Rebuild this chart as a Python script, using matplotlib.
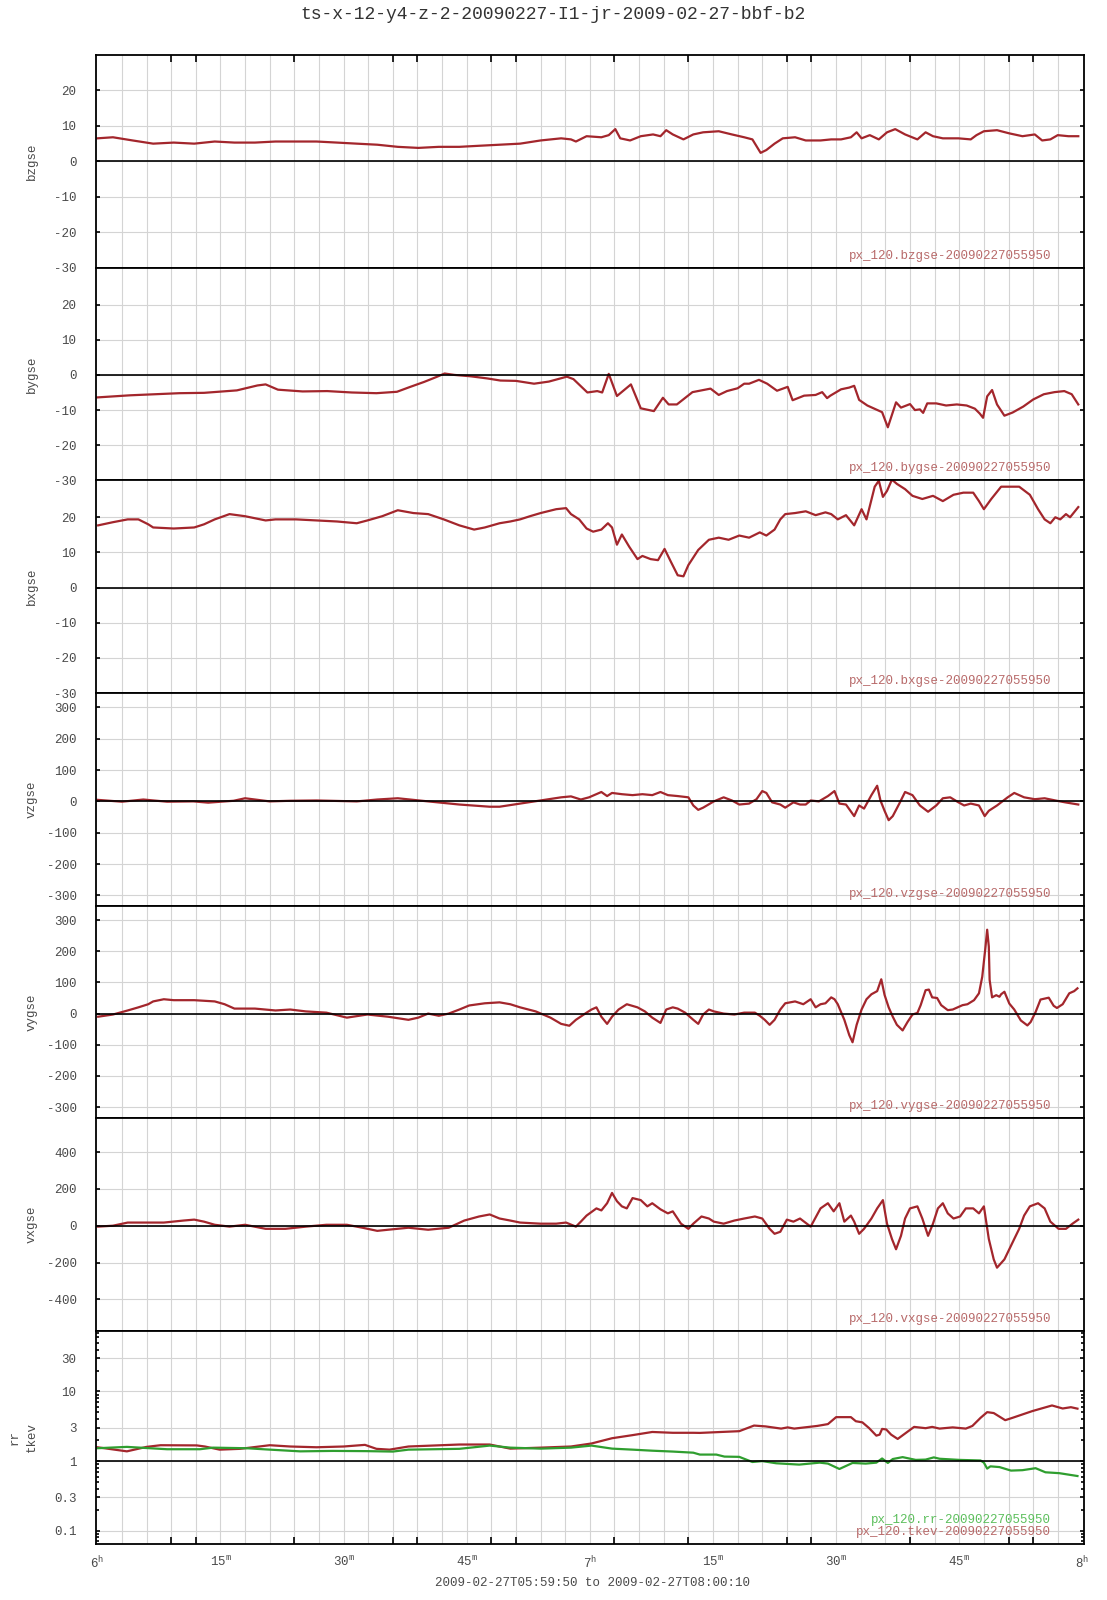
import matplotlib
matplotlib.use('Agg')
import matplotlib.pyplot as plt
import numpy as np

plt.rcParams['font.family'] = ['Liberation Mono', 'DejaVu Sans Mono']
plt.rcParams['mathtext.fontset'] = 'custom'
plt.rcParams['mathtext.rm'] = 'Liberation Mono'
plt.rcParams['mathtext.it'] = 'Liberation Mono'
plt.rcParams['axes.unicode_minus'] = False

# time = minutes after 06:00 UT
bzgse = [(0, 6.5), (1.9, 6.8), (4.3, 5.9), (6.8, 5.0), (9.3, 5.3), (11.8, 5.0), (14.3, 5.6),
         (16.7, 5.3), (19.2, 5.3), (21.7, 5.6), (24.2, 5.6), (26.7, 5.6), (29.2, 5.3), (31.6, 5.0),
         (34.1, 4.7), (36.6, 4.1), (39.1, 3.8), (41.6, 4.1), (44.1, 4.1), (46.5, 4.4), (49.0, 4.7),
         (51.5, 5.0), (54.0, 5.9), (56.5, 6.5), (57.7, 6.2), (58.3, 5.6), (59.6, 7.1), (61.4, 6.8),
         (62.3, 7.4), (63.1, 9.1), (63.7, 6.5), (64.9, 5.9), (66.2, 7.1), (67.7, 7.6), (68.6, 7.1),
         (69.3, 8.8), (70.1, 7.6), (71.4, 6.2), (72.6, 7.6), (73.8, 8.2), (75.7, 8.5), (77.3, 7.6),
         (78.8, 6.8), (79.8, 6.2), (80.8, 2.4), (81.5, 3.2), (82.5, 5.0), (83.5, 6.5), (85.0, 6.8),
         (86.3, 5.9), (88.1, 5.9), (89.4, 6.2), (90.6, 6.2), (91.8, 6.8), (92.5, 8.2), (93.1, 6.5),
         (94.1, 7.4), (95.2, 6.2), (96.2, 8.2), (97.2, 9.1), (98.4, 7.6), (99.9, 6.2), (100.9, 8.2),
         (101.8, 7.1), (103.0, 6.5), (104.9, 6.5), (106.4, 6.2), (107.1, 7.4), (108.0, 8.5),
         (109.6, 8.8), (111.1, 7.9), (112.7, 7.1), (114.2, 7.6), (115.1, 5.9), (116.1, 6.2),
         (117.0, 7.4), (118.3, 7.1), (119.5, 7.1)]

bygse = [(0, -6.4), (4, -5.8), (7, -5.5), (10, -5.2), (13, -5.1), (17, -4.4), (19.5, -3.0),
         (20.5, -2.7), (22, -4.2), (25, -4.7), (28, -4.6), (31, -5.0), (34, -5.2), (36.5, -4.8),
         (38, -3.5), (39.8, -2.0), (41.3, -0.6), (42.3, 0.4), (43.5, 0.0), (45.5, -0.4),
         (47.5, -1.0), (49.1, -1.6), (51, -1.7), (53.2, -2.5), (55, -1.9), (57.2, -0.5),
         (58, -1.2), (59.7, -5.0), (60.9, -4.6), (61.5, -5.0), (62.3, 0.3), (63.3, -6.0),
         (65.0, -2.7), (66.2, -9.5), (67.8, -10.3), (68.9, -6.5), (69.6, -8.4), (70.6, -8.4),
         (72.5, -4.9), (74.7, -3.9), (75.7, -5.7), (76.7, -4.6), (78.0, -3.8), (78.8, -2.5),
         (79.4, -2.5), (80.6, -1.4), (81.6, -2.5), (82.8, -4.5), (84.1, -3.4), (84.7, -7.2),
         (86.1, -5.9), (87.5, -5.7), (88.3, -4.9), (88.9, -6.6), (89.3, -5.9), (90.6, -4.1),
         (91.6, -3.6), (92.2, -3.1), (92.8, -7.1), (93.8, -8.7), (95.6, -10.6), (96.3, -14.9),
         (97.3, -7.8), (97.9, -9.3), (99.0, -8.3), (99.6, -10.0), (100.2, -9.8), (100.6, -10.8),
         (101.1, -8.1), (102.2, -8.1), (103.4, -8.7), (104.7, -8.4), (105.9, -8.7), (106.9, -9.6),
         (107.5, -11.0), (107.9, -12.2), (108.4, -6.1), (109.0, -4.3), (109.6, -8.4),
         (110.5, -11.6), (111.5, -10.7), (112.8, -9.0), (114.0, -7.0), (115.3, -5.5),
         (116.6, -4.9), (117.8, -4.6), (118.7, -5.5), (119.5, -8.4)]

bxgse = [(0.1, 17.7), (1.9, 18.6), (3.7, 19.4), (5.0, 19.4), (6.2, 18.0), (6.8, 17.1), (9.3, 16.8),
         (11.8, 17.1), (13.0, 18.0), (14.3, 19.4), (16.1, 20.9), (18.0, 20.3), (20.5, 19.1),
         (21.7, 19.4), (24.2, 19.4), (26.7, 19.1), (29.2, 18.8), (31.6, 18.3), (32.9, 19.1),
         (34.7, 20.3), (36.6, 22.0), (38.5, 21.2), (40.3, 20.9), (42.2, 19.4), (44.1, 17.7),
         (45.9, 16.5), (47.2, 17.1), (49.0, 18.3), (50.3, 18.8), (51.5, 19.4), (52.7, 20.3),
         (54.0, 21.2), (55.9, 22.3), (57.1, 22.6), (57.7, 20.9), (58.7, 19.4), (59.6, 16.8),
         (60.4, 15.9), (61.4, 16.5), (62.2, 18.3), (62.7, 17.1), (63.3, 12.2), (63.9, 15.1),
         (64.8, 11.6), (65.8, 8.1), (66.4, 9.0), (67.4, 8.1), (68.3, 7.8), (69.1, 11.0),
         (69.9, 7.2), (70.7, 3.5), (71.4, 3.2), (72.0, 6.4), (73.2, 10.7), (74.5, 13.6),
         (75.7, 14.2), (76.9, 13.6), (78.2, 14.8), (79.4, 14.2), (80.7, 15.7), (81.5, 14.8),
         (82.5, 16.5), (83.2, 19.4), (83.8, 20.9), (85.0, 21.2), (86.3, 21.7), (87.5, 20.6),
         (88.7, 21.4), (89.4, 20.9), (90.2, 19.4), (91.2, 20.6), (92.2, 17.7), (93.1, 22.3),
         (93.7, 19.4), (94.7, 28.7), (95.2, 30.4), (95.7, 25.8), (96.2, 27.5), (96.8, 30.7),
         (97.4, 29.5), (98.4, 28.0), (99.3, 26.1), (100.5, 25.2), (101.8, 26.1), (103.0, 24.6),
         (104.3, 26.4), (105.5, 27.0), (106.7, 27.0), (107.4, 24.6), (108.0, 22.3), (108.9, 25.2),
         (110.1, 28.7), (111.3, 28.7), (112.3, 28.7), (113.6, 26.4), (114.6, 22.3), (115.4, 19.4),
         (116.1, 18.3), (116.7, 20.0), (117.3, 19.4), (118.0, 20.9), (118.5, 20.0), (119.5, 22.9)]

vzgse = [(0, 5), (3.0, -1), (5.6, 6), (8.5, -1), (11.7, 0), (13.5, -4), (16.6, 2), (18.0, 10),
         (21.0, 0), (23.5, 2), (26.7, 3), (31.6, 0), (34.1, 6), (36.6, 10), (40.3, 0), (44.1, -10),
         (47.8, -17), (49.0, -17), (51.5, -7), (54.0, 3), (56.5, 13), (57.7, 16), (58.9, 6),
         (59.9, 13), (61.4, 30), (62.1, 17), (62.7, 27), (63.9, 23), (65.2, 20), (66.4, 23),
         (67.6, 20), (68.6, 30), (69.5, 20), (70.7, 17), (72.0, 13), (72.6, -13), (73.2, -27),
         (73.8, -20), (75.1, 0), (76.3, 13), (77.3, 3), (78.2, -10), (79.4, -7), (80.3, 7),
         (81.0, 33), (81.5, 27), (82.2, -3), (83.2, -10), (83.8, -20), (84.8, -3), (85.6, -10),
         (86.3, -10), (86.9, 3), (87.9, 0), (89.0, 17), (89.8, 33), (90.4, -7), (91.2, -10),
         (92.2, -47), (92.8, -13), (93.4, -23), (94.3, 20), (95.0, 50), (95.4, 3), (95.9, -30),
         (96.4, -60), (96.9, -47), (97.7, -7), (98.4, 30), (99.3, 20), (100.2, -13), (101.2, -33),
         (102.2, -13), (103.0, 10), (103.9, 13), (104.9, -3), (105.6, -13), (106.4, -7),
         (107.4, -13), (108.1, -47), (108.6, -30), (109.6, -13), (110.9, 13), (111.7, 27),
         (112.9, 13), (114.2, 7), (115.4, 10), (116.7, 3), (117.9, -3), (119.5, -10)]

vygse = [(0.1, -10), (1.9, -3), (3.7, 10), (5.0, 20), (6.2, 30), (6.8, 39), (8.1, 46), (9.3, 43),
         (11.8, 43), (14.3, 39), (15.5, 30), (16.7, 16), (19.2, 16), (20.5, 13), (21.7, 10),
         (23.5, 13), (25.4, 7), (27.9, 3), (30.4, -13), (32.9, -3), (35.4, -10), (37.9, -20),
         (39.1, -13), (40.3, 0), (41.6, -7), (42.8, 0), (44.1, 13), (45.3, 26), (47.2, 33),
         (49.0, 36), (50.3, 30), (51.5, 20), (53.4, 7), (55.2, -13), (56.5, -33), (57.5, -39),
         (58.3, -20), (59.6, 3), (60.2, 13), (60.8, 20), (61.4, -10), (62.1, -33), (62.7, -10),
         (63.5, 13), (64.5, 30), (65.8, 20), (66.7, 7), (67.6, -13), (68.6, -30), (69.3, 13),
         (70.1, 20), (70.7, 16), (71.6, 3), (72.6, -20), (73.2, -33), (73.8, -3), (74.5, 13),
         (75.1, 7), (76.3, 0), (77.6, -3), (78.8, 3), (80.1, 3), (80.7, -7), (81.3, -20),
         (81.9, -36), (82.5, -20), (83.2, 13), (83.8, 33), (85.0, 39), (86.0, 30), (86.9, 46),
         (87.5, 20), (88.1, 30), (88.7, 33), (89.4, 52), (89.8, 46), (90.2, 30), (91.0, -20),
         (91.6, -69), (92.0, -92), (92.5, -36), (93.1, 13), (93.7, 46), (94.3, 62), (95.0, 72),
         (95.5, 110), (95.9, 60), (96.4, 20), (96.9, -10), (97.4, -36), (98.1, -54), (98.7, -27),
         (99.3, -3), (99.9, 2), (100.3, 27), (100.9, 75), (101.3, 77), (101.7, 52), (102.3, 50),
         (102.8, 27), (103.6, 11), (104.2, 13), (105.4, 27), (106.0, 30), (106.8, 43),
         (107.4, 65), (107.8, 118), (108.2, 215), (108.4, 269), (108.6, 215), (108.7, 108),
         (109.0, 52), (109.5, 59), (109.9, 54), (110.1, 62), (110.5, 70), (111.1, 32),
         (111.7, 13), (112.5, -22), (113.3, -38), (113.7, -27), (114.3, 5), (114.9, 45),
         (115.9, 51), (116.5, 25), (116.9, 18), (117.6, 30), (118.4, 65), (119.0, 72), (119.4, 81)]

vxgse = [(0.1, -5), (1.9, 0), (3.7, 17), (5.6, 17), (8.1, 17), (10.5, 28), (11.8, 33), (13.0, 22),
         (14.3, 5), (16.1, -5), (18.0, 5), (20.5, -17), (22.9, -17), (25.4, -5), (27.9, 5),
         (30.4, 5), (32.3, -11), (34.1, -28), (35.4, -22), (37.9, -11), (40.3, -22), (42.8, -11),
         (44.7, 28), (46.5, 50), (47.8, 61), (49.0, 39), (50.3, 28), (51.5, 17), (54.0, 11),
         (55.9, 11), (57.1, 17), (58.3, -5), (58.9, 22), (59.6, 55), (60.8, 94), (61.4, 83),
         (62.1, 122), (62.7, 178), (63.3, 133), (63.9, 105), (64.5, 94), (65.2, 150), (66.2, 139),
         (67.0, 105), (67.6, 122), (68.6, 89), (69.5, 67), (70.1, 78), (71.1, 11), (72.0, -17),
         (72.6, 11), (73.6, 50), (74.5, 39), (75.1, 22), (76.3, 11), (77.6, 28), (78.8, 39),
         (80.1, 50), (81.0, 39), (81.9, -17), (82.5, -44), (83.2, -33), (84.0, 33), (84.8, 22),
         (85.6, 39), (86.9, -5), (88.1, 94), (89.0, 122), (89.7, 78), (90.4, 122), (91.0, 22),
         (91.8, 55), (92.2, 22), (92.8, -44), (93.4, -17), (94.3, 39), (95.0, 94), (95.7, 139),
         (96.2, 11), (96.8, -72), (97.3, -128), (97.9, -55), (98.4, 39), (99.0, 94), (99.9, 105),
         (100.5, 39), (101.2, -55), (101.8, 11), (102.4, 94), (103.0, 122), (103.6, 67),
         (104.3, 39), (105.1, 50), (105.8, 94), (106.7, 94), (107.4, 67), (108.0, 105),
         (108.6, -72), (109.2, -183), (109.6, -228), (110.5, -183), (111.7, -72), (112.3, -17),
         (112.9, 55), (113.6, 105), (114.6, 122), (115.4, 94), (116.1, 22), (117.1, -17),
         (118.0, -17), (118.8, 11), (119.5, 33)]

tkev = [(0, 1.58), (3.6, 1.38), (6.0, 1.6), (7.7, 1.69), (12.1, 1.68), (13.1, 1.62), (14.9, 1.46),
        (17.4, 1.5), (21.0, 1.69), (23.5, 1.62), (26.7, 1.58), (30.0, 1.62), (32.6, 1.71),
        (34.0, 1.5), (35.6, 1.46), (37.9, 1.62), (44.1, 1.73), (47.8, 1.73), (50.3, 1.51),
        (54.0, 1.56), (57.7, 1.62), (60.2, 1.79), (62.7, 2.13), (65.2, 2.36), (67.6, 2.62),
        (70.1, 2.55), (72.6, 2.55), (73.4, 2.54), (78.2, 2.69), (80.0, 3.24), (81.4, 3.15),
        (83.3, 2.93), (84.1, 3.05), (84.9, 2.93), (87.7, 3.2), (89.0, 3.4), (90.0, 4.28),
        (91.8, 4.28), (92.4, 3.74), (93.2, 3.6), (94.0, 2.99), (94.9, 2.32), (95.3, 2.4),
        (95.6, 2.9), (96.1, 2.85), (96.7, 2.4), (97.5, 2.08), (98.5, 2.54), (99.5, 3.1),
        (100.9, 2.97), (101.7, 3.1), (102.6, 2.93), (104.2, 3.05), (105.8, 2.93), (106.6, 3.2),
        (107.6, 4.19), (108.4, 5.05), (109.2, 4.9), (110.6, 3.87), (111.5, 4.19), (113.9, 5.23),
        (116.3, 6.3), (117.6, 5.7), (118.6, 5.95), (119.4, 5.67)]

rr = [(0, 1.53), (3.6, 1.6), (6.4, 1.53), (8.5, 1.48), (12.5, 1.48), (14.1, 1.56), (18.2, 1.53),
      (20.6, 1.47), (24.7, 1.38), (28.7, 1.4), (32.8, 1.39), (36.0, 1.37), (37.9, 1.46),
      (44.1, 1.5), (47.8, 1.67), (50.3, 1.56), (54.0, 1.51), (57.7, 1.56), (60.2, 1.67),
      (62.7, 1.51), (65.2, 1.46), (67.6, 1.41), (70.1, 1.37), (72.6, 1.32), (73.4, 1.24),
      (75.4, 1.24), (76.4, 1.16), (78.2, 1.15), (79.8, 0.97), (81.0, 1.0), (82.7, 0.93),
      (85.5, 0.89), (88.0, 0.95), (89.0, 0.92), (90.4, 0.77), (92.0, 0.94), (93.6, 0.92),
      (94.9, 0.95), (95.6, 1.09), (96.3, 0.94), (96.9, 1.07), (98.1, 1.14), (99.7, 1.04),
      (100.9, 1.05), (101.9, 1.13), (102.6, 1.08), (105.0, 1.04), (107.6, 1.02), (108.0, 0.95),
      (108.4, 0.78), (108.8, 0.84), (109.9, 0.82), (111.3, 0.73), (112.7, 0.74), (114.3, 0.79),
      (115.5, 0.69), (117.2, 0.67), (119.4, 0.61)]

panel_names = ['bzgse', 'bygse', 'bxgse', 'vzgse', 'vygse', 'vxgse']
panel_data = [bzgse, bygse, bxgse, vzgse, vygse, vxgse]
panel_ticks = [[-30, -20, -10, 0, 10, 20], [-30, -20, -10, 0, 10, 20], [-30, -20, -10, 0, 10, 20],
               [-300, -200, -100, 0, 100, 200, 300], [-300, -200, -100, 0, 100, 200, 300],
               [-400, -200, 0, 200, 400]]
panel_lims = [(-30, 30), (-30, 30.5), (-30, 30.5), (-333, 346), (-336, 346), (-572, 583)]
log_ticks = [0.1, 0.3, 1, 3, 10, 30]
log_labels = ['0.1', '0.3', '1', '3', '10', '30']

time_labels = ['6$^{h}$', '15$^{m}$', '30$^{m}$', '45$^{m}$', '7$^{h}$',
               '15$^{m}$', '30$^{m}$', '45$^{m}$', '8$^{h}$']
time_label_pos = [0, 15, 30, 45, 60, 75, 90, 105, 120]
tick_marks = [9, 12, 24, 36, 39, 48, 51, 60, 63, 72, 75, 84, 87, 99, 111, 114]

red = '#a3262c'
green = '#2f9e2f'
red_txt = '#b86a6a'
green_txt = '#5cbf5c'
lab_col = '#4a4a4a'

fig, axes = plt.subplots(7, 1, figsize=(11.07, 16), dpi=100, sharex=True)
fig.subplots_adjust(left=0.0867, right=0.979, top=0.9656, bottom=0.0352, hspace=0)


def style(ax):
    for gx in np.arange(3, 120, 3):
        ax.axvline(gx, color='#d4d4d4', lw=0.8, zorder=0)
    ax.grid(axis='y', color='#d4d4d4', lw=0.8)
    ax.set_axisbelow(True)
    for s in ax.spines.values():
        s.set_linewidth(1.3)
    ax.tick_params(axis='y', direction='in', length=3, width=1.2, right=True,
                   labelsize=9, labelcolor=lab_col, pad=14)
    ax.tick_params(axis='x', which='both', length=0)


for i, ax in enumerate(axes[:6]):
    style(ax)
    d = panel_data[i]
    ax.plot([p[0] for p in d], [p[1] for p in d], color=red, lw=1.6)
    ax.axhline(0, color='black', lw=1.2)
    ax.set_yticks(panel_ticks[i])
    ax.set_ylim(panel_lims[i])
    ax.set_ylabel(panel_names[i], fontsize=9, color=lab_col)
    ax.yaxis.set_label_coords(-0.059, 0.5)
    ax.text(0.967, 0.056, 'px_120.' + panel_names[i] + '-20090227055950', transform=ax.transAxes,
            ha='right', va='center', fontsize=9, color=red_txt)

ax = axes[6]
ax.set_yscale('log')
style(ax)
ax.plot([p[0] for p in tkev], [p[1] for p in tkev], color=red, lw=1.6)
ax.plot([p[0] for p in rr], [p[1] for p in rr], color=green, lw=1.6)
ax.axhline(1, color='black', lw=1.2)
ax.set_yticks(log_ticks)
ax.set_yticklabels(log_labels)
ax.yaxis.set_minor_locator(matplotlib.ticker.LogLocator(subs=np.arange(2, 10)))
ax.yaxis.set_minor_formatter(matplotlib.ticker.NullFormatter())
ax.tick_params(axis='y', which='minor', direction='in', length=2, width=1.2, right=True)
ax.set_ylim(0.065, 74)
ax.set_ylabel('rr\ntkev', fontsize=9, color=lab_col, linespacing=1.6)
ax.yaxis.set_label_coords(-0.059, 0.5)
ax.text(0.967, 0.113, 'px_120.rr-20090227055950', transform=ax.transAxes,
        ha='right', va='center', fontsize=9, color=green_txt)
ax.text(0.967, 0.056, 'px_120.tkev-20090227055950', transform=ax.transAxes,
        ha='right', va='center', fontsize=9, color=red_txt)

ax.set_xlim(-10 / 60, 120 + 10 / 60)
ax.set_xticks(time_label_pos)
ax.set_xticklabels(time_labels)
ax.set_xticks(tick_marks, minor=True)
ax.tick_params(axis='x', which='major', length=0, labelsize=9, labelcolor=lab_col, pad=8)
ax.tick_params(axis='x', which='minor', direction='in', length=5, width=1.2, bottom=True)
axes[0].tick_params(axis='x', which='minor', direction='in', length=5, width=1.2,
                    top=True, bottom=False)
for a in axes[:6]:
    a.tick_params(axis='x', which='major', labelbottom=False)

fig.text(0.535, 0.0105, '2009-02-27T05:59:50 to 2009-02-27T08:00:10', ha='center',
         va='center', fontsize=9, color=lab_col)
fig.suptitle('ts-x-12-y4-z-2-20090227-I1-jr-2009-02-27-bbf-b2', y=0.991, va='center',
             fontsize=13, color='#333333')

fig.savefig('out.png', dpi=100)
